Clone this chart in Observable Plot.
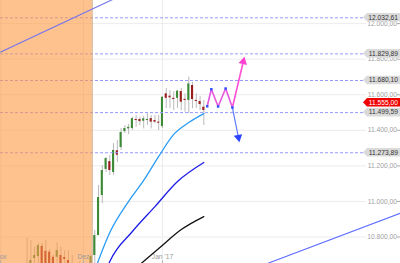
<!DOCTYPE html>
<html><head><meta charset="utf-8">
<script src="https://cdn.jsdelivr.net/npm/d3@7"></script>
<script src="https://cdn.jsdelivr.net/npm/@observablehq/plot@0.6"></script>
<style>html,body{margin:0;padding:0;background:#fff;overflow:hidden}svg{display:block}</style>
</head><body><div id="chart"></div>
<script>
// ---- data (session index: 0 = 1 Dec 2016, trading days) ----
const session = [-15,-14,-13,-12,-11,-10,-9,-8,-7,-6,-5,-4,-3,-2,-1,0,1,2,3,4,5,6,7,8,9,10,11,12,13,14,15,16,17,18,19,20,21,22,23,24,25,26,27,28,29,30,31,32];
const open  = [10640,10630,10679,10690,10747,10720,10715,10686,10686,10696,10685,10668,10620,10600,10620,10560,10530,10620,10696,10808,11033,11180,11224,11163,11285,11303,11393,11408,11410,11461,11461,11451,11455,11466,11455,11446,11421,11605,11592,11580,11580,11618,11573,11568,11652,11568,11562,11530];
const high  = [10792,10780,10743,10765,10765,10780,10730,10700,10765,10743,10724,10724,10696,10640,10660,10630,10600,10700,10837,11090,11202,11247,11258,11326,11343,11410,11427,11433,11474,11483,11474,11479,11494,11483,11483,11483,11590,11635,11624,11618,11624,11635,11605,11699,11670,11605,11590,11568];
const low   = [10600,10610,10620,10640,10620,10620,10610,10620,10640,10620,10640,10620,10580,10580,10600,10510,10480,10600,10640,10808,10988,11163,11146,11146,11219,11287,11382,11376,11399,11417,11427,11408,11427,11408,11437,11399,11410,11523,11523,11511,11523,11511,11502,11494,11521,11523,11511,11427];
const close = [10630,10668,10696,10752,10640,10645,10640,10645,10724,10640,10674,10648,10600,10625,10640,10530,10515,10690,10808,11022,11174,11241,11174,11287,11260,11388,11410,11417,11466,11455,11449,11465,11461,11446,11446,11440,11586,11580,11583,11573,11620,11558,11568,11661,11573,11562,11545,11511];

const maFastIdx = [3,7,12,16,20,24,28,32];
const maFastVal = [10612,10825,11000,11118,11253,11377,11444,11494];
const maMidIdx  = [6,7,13,19,25,32];
const maMidVal  = [10612,10662,10831,10971,11112,11219];
const maSlowIdx = [15,20,26,32];
const maSlowVal = [10645,10735,10842,10915];

const trendAIdx = [-22,10];    const trendAVal = [11840,12158];
const trendBIdx = [48.9,84.3]; const trendBVal = [10651,10934];

const zigIdx = [32.9,34,35.8,37.8,39.6];
const zigVal = [11535,11631,11534,11635,11528];
const bullIdx = 42.5, bullVal = 11787;
const bearIdx = 41.2, bearVal = 11360;

const levels = [12032.61,11829.89,11680.10,11499.59,11273.89];
const lastPrice = 11555.00;
const gridValues = [12000,11800,11600,11400,11200,11000,10800];
const tickSessions = [-22,0,21];
const tickLabels = ["Nov","Dez","Jan '17"];
const shadeUntil = 2.3;

// ---- layout ----
const W = 400, H = 263;
const X0 = -22.07, X1 = 84.3, Y0 = 10651, Y1 = 12130;
const xAt = px => X0 + px / W * (X1 - X0);
const kx = W / (X1 - X0), ky = H / (Y1 - Y0);
const fmt = d3.formatLocale({decimal: ",", thousands: ".", grouping: [3], currency: ["", ""]}).format(",.2f");

const candles = session.map((s, k) => ({s, o: open[k], h: high[k], l: low[k], c: close[k]}));
const toPts = (I, V) => I.map((s, k) => ({s, v: V[k]}));
const zig = toPts(zigIdx, zigVal);
const last = zig[zig.length - 1];
const pink = [...zig, {s: bullIdx, v: bullVal}];
const blue = [last, {s: bearIdx, v: bearVal}];
const ang = (a, b) => Math.atan2((b.s - a.s) * kx, (b.v - a.v) * ky) * 180 / Math.PI;
const minBody = 1.1 / ky;

const chart = Plot.plot({
  width: W, height: H, margin: 0,
  x: {domain: [X0, X1], range: [0, W], axis: null},
  y: {domain: [Y0, Y1], range: [H, 0], axis: null},
  style: {fontFamily: "'Liberation Sans', Arial, sans-serif", background: "#fff"},
  marks: [
    Plot.ruleY(gridValues, {y: d => d, x1: () => X0, x2: () => xAt(366), stroke: "#ececec"}),
    Plot.ruleX(tickSessions, {x: d => d, stroke: "#ececec"}),
    Plot.ruleX(candles, {x: "s", y1: "l", y2: "h", stroke: "#b9b9b9", clip: true}),
    Plot.rect(candles, {
      x1: d => d.s - 0.28, x2: d => d.s + 0.28,
      y1: d => Math.min(d.o, d.c),
      y2: d => Math.max(Math.max(d.o, d.c), Math.min(d.o, d.c) + minBody),
      fill: d => d.c >= d.o ? "#3d8b36" : "#9b1c1c", clip: true
    }),
    Plot.ruleY(levels, {y: d => d, x1: () => X0, x2: () => xAt(364), stroke: "#9898ff", strokeDasharray: "3,2"}),
    Plot.rect([0], {x1: () => X0, x2: () => shadeUntil, y1: () => Y0, y2: () => Y1, fill: "#fd9a45", fillOpacity: 0.6}),
    Plot.ruleX([shadeUntil], {x: d => d, stroke: "#d39f72"}),
    Plot.line(toPts(trendAIdx, trendAVal), {x: "s", y: "v", stroke: "#7373ec", strokeWidth: 1.1, clip: true}),
    Plot.line(toPts(trendBIdx, trendBVal), {x: "s", y: "v", stroke: "#5c6cff", strokeWidth: 1.1, clip: true}),
    Plot.line(toPts(maFastIdx, maFastVal), {x: "s", y: "v", stroke: "#2a9cf5", strokeWidth: 1.3, curve: "monotone-x", clip: true}),
    Plot.line(toPts(maMidIdx, maMidVal), {x: "s", y: "v", stroke: "#1c1ce8", strokeWidth: 1.3, curve: "monotone-x", clip: true}),
    Plot.line(toPts(maSlowIdx, maSlowVal), {x: "s", y: "v", stroke: "#111", strokeWidth: 1.3, curve: "monotone-x", clip: true}),
    Plot.line(pink, {x: "s", y: "v", stroke: "#ff4fd6", strokeWidth: 1.6}),
    Plot.line(zig, {x: "s", y: "v", stroke: "#8f80ff", strokeWidth: 0.6, strokeOpacity: 0.6}),
    Plot.line(blue, {x: "s", y: "v", stroke: "#5f7cff", strokeWidth: 1.2}),
    Plot.dot(zig, {x: "s", y: "v", symbol: "square", r: 1.4, fill: "#3050ff"}),
    Plot.dot([pink[pink.length - 1]], {x: "s", y: "v", symbol: "triangle", r: 3.2, fill: "#ff3fd2", rotate: ang(last, pink[pink.length - 1])}),
    Plot.dot([blue[1]], {x: "s", y: "v", symbol: "triangle", r: 3.2, fill: "#2b44ff", rotate: ang(last, blue[1])}),
    Plot.text(gridValues, {x: () => xAt(396.5), y: d => d, text: d => fmt(d), textAnchor: "end", fill: "#a0a0a0", fontSize: 6.7}),
    Plot.ruleY(gridValues, {y: d => d, x1: () => xAt(397), x2: () => xAt(400), stroke: "#aaa"}),
    Plot.text(tickSessions, {x: d => d, y: () => Y0, dy: -7, text: (d, i) => tickLabels[i], fill: "#999", fontSize: 6.7}),
    Plot.ruleX(tickSessions, {x: d => d, y1: () => Y0, y2: () => Y0 + 2.5 / ky, stroke: "#aaa"})
  ]
});

// price tags on the right, placed with the plot's own y scale
const ys = chart.scale("y");
const g = d3.select(chart).append("g").attr("font-size", 6.7).attr("font-family", "'Liberation Sans', Arial, sans-serif");
const tags = [...levels.map(v => ({v, fill: "#dadada", text: "#333"})), {v: lastPrice, fill: "#f00000", text: "#fff"}];
for (const t of tags) {
  const y = ys.apply(t.v);
  g.append("path")
    .attr("d", `M363,${y}L367,${y - 4.3}L400,${y - 4.3}L400,${y + 4.3}L367,${y + 4.3}Z`)
    .attr("fill", t.fill);
  g.append("text").attr("x", 398).attr("y", y).attr("dy", "0.35em")
    .attr("text-anchor", "end").attr("fill", t.text).text(fmt(t.v));
}
document.getElementById("chart").append(chart);
</script></body></html>
